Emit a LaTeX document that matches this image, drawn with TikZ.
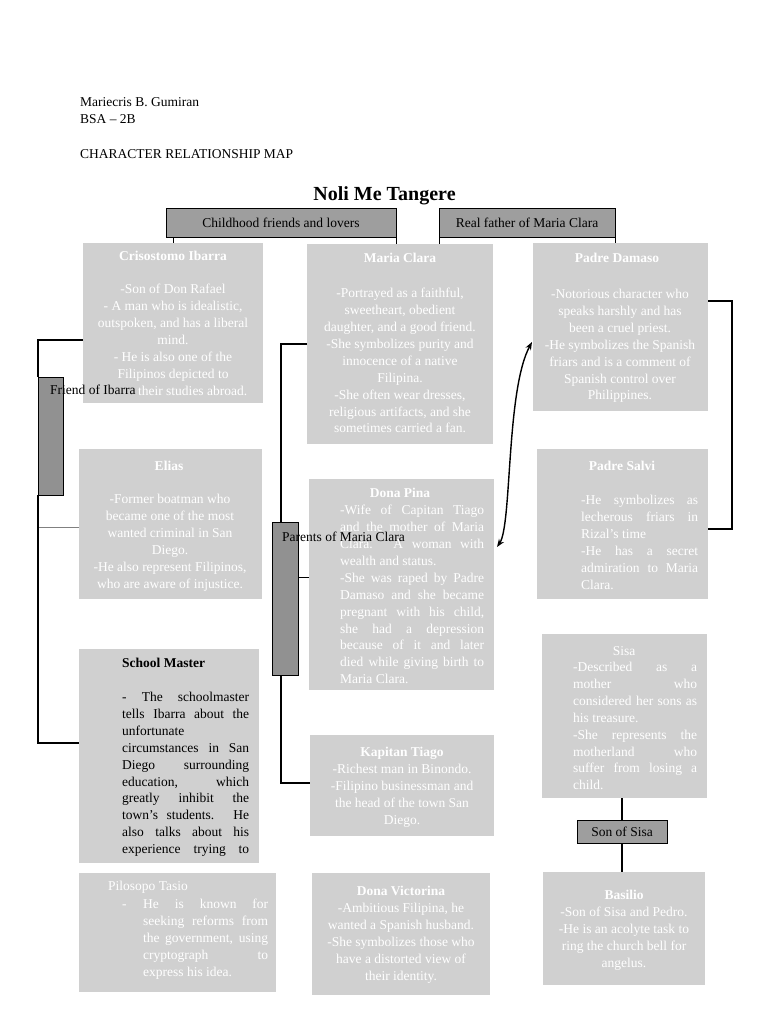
\documentclass[tikz,border=0pt]{standalone}
\usepackage{fontspec}
\setmainfont{Liberation Serif}
\usetikzlibrary{arrows.meta}
\definecolor{boxgray}{RGB}{208,208,208}
\definecolor{labgray}{RGB}{158,158,158}
\definecolor{bargray}{RGB}{145,145,145}
\newcommand\JL[2]{\makebox[#1][s]{#2}}
\begin{document}
\begin{tikzpicture}[x=1pt,y=-1pt,
 cbox/.style={fill=boxgray, draw=none, anchor=north west, inner sep=0pt, outer sep=0pt},
 fnt/.style={font=\fontsize{13.5}{16.9}\selectfont},
 wt/.style={fnt, text=white, inner sep=0pt},
 ctr/.style={wt, anchor=north, align=center},
 jst/.style={wt, anchor=north west, align=left},
 ttl/.style={wt, font=\fontsize{13.5}{16.9}\selectfont\bfseries, anchor=base},
 hdr/.style={fnt, inner sep=0pt, anchor=base west},
 lab/.style={draw=black, fill=labgray, line width=0.8pt, fnt, inner sep=0pt, outer sep=0pt},
 bar/.style={draw=black, fill=bargray, line width=0.7pt, anchor=north west, inner sep=0pt, outer sep=0pt},
 conn/.style={line width=1.6pt, black},
 thinl/.style={line width=0.9pt, black},
 tip/.style={{Stealth[length=8pt,width=6pt]}-{Stealth[length=8pt,width=6pt]}},
]
\fill[white] (0,0) rectangle (768,1024);
\useasboundingbox (0,0) rectangle (768,1024);

% header
\node[hdr] (author) at (80,106.5) {Mariecris B. Gumiran};
\node[hdr] (cls) at (80,123.5) {BSA – 2B};
\node[hdr] (maptitle) at (80,158.5) {CHARACTER RELATIONSHIP MAP};
\node[inner sep=0pt, anchor=base, font=\fontsize{20}{24}\selectfont\bfseries] (noli) at (384.5,200.5) {Noli Me Tangere};

% character boxes
\node[cbox, minimum width=180pt, minimum height=160pt] (ibarra) at (83,243) {};
\node[cbox, minimum width=186pt, minimum height=200pt] (maria) at (307,244) {};
\node[cbox, minimum width=175pt, minimum height=168pt] (damaso) at (533,243) {};
\node[cbox, minimum width=183pt, minimum height=150pt] (elias) at (79,449) {};
\node[cbox, minimum width=185pt, minimum height=211pt] (pina) at (309,479) {};
\node[cbox, minimum width=171pt, minimum height=150pt] (salvi) at (537,449) {};
\node[cbox, minimum width=180pt, minimum height=214pt] (school) at (79,649) {};
\node[cbox, minimum width=184pt, minimum height=101pt] (kapitan) at (310,735) {};
\node[cbox, minimum width=165pt, minimum height=164pt] (sisa) at (542,634) {};
\node[cbox, minimum width=197pt, minimum height=119pt] (tasio) at (79,873) {};
\node[cbox, minimum width=178pt, minimum height=122pt] (victorina) at (312,873) {};
\node[cbox, minimum width=162pt, minimum height=113pt] (basilio) at (543,872) {};

% titles
\node[ttl] (ibarraH) at (173,260.5) {Crisostomo Ibarra};
\node[ttl] (mariaH) at (400,262.5) {Maria Clara};
\node[ttl] (damasoH) at (617,262.5) {Padre Damaso};
\node[ttl] (eliasH) at (169,470.5) {Elias};
\node[ttl] (pinaH) at (400,497.5) {Dona Pina};
\node[ttl] (salviH) at (622,470.5) {Padre Salvi};
\node[ttl] (kapitanH) at (402,756.5) {Kapitan Tiago};
\node[wt, anchor=base] (sisaH) at (624,655.5) {Sisa};
\node[ttl] (victorinaH) at (401,895.5) {Dona Victorina};
\node[ttl] (basilioH) at (624,899.5) {Basilio};
\node[ttl, text=black, anchor=base west] (schoolH) at (122,667.5) {School Master};
\node[wt, anchor=base west] (tasioH) at (108,890.5) {Pilosopo Tasio};

% bodies
\node[ctr] (ibarraB) at (173,284) {-Son of Don Rafael\\- A man who is idealistic,\\outspoken, and has a liberal\\mind.\\- He is also one of the\\Filipinos depicted to\\\phantom{pursue} their studies abroad.};
\node[ctr] (mariaB) at (400,288) {-Portrayed as a faithful,\\sweetheart, obedient\\daughter, and a good friend.\\-She symbolizes purity and\\innocence of a native\\Filipina.\\-She often wear dresses,\\religious artifacts, and she\\sometimes carried a fan.};
\node[ctr] (damasoB) at (620,289) {-Notorious character who\\speaks harshly and has\\been a cruel priest.\\-He symbolizes the Spanish\\friars and is a comment of\\Spanish control over\\Philippines.};
\node[ctr] (eliasB) at (170,494) {-Former boatman who\\became one of the most\\wanted criminal in San\\Diego.\\-He also represent Filipinos,\\who are aware of injustice.};
\node[jst] (pinaB) at (340,505) {\JL{144pt}{-Wife of Capitan Tiago}\\\JL{144pt}{and the mother of Maria}\\\JL{144pt}{Clara. A woman with}\\wealth and status.\\\JL{144pt}{-She was raped by Padre}\\\JL{144pt}{Damaso and she became}\\\JL{144pt}{pregnant with his child,}\\\JL{144pt}{she had a depression}\\\JL{144pt}{because of it and later}\\\JL{144pt}{died while giving birth to}\\Maria Clara.};
\node[jst] (salviB) at (581,495) {\JL{117pt}{-He symbolizes as}\\\JL{117pt}{lecherous friars in}\\Rizal’s time\\\JL{117pt}{-He has a secret}\\\JL{117pt}{admiration to Maria}\\Clara.};
\node[jst, text=black] (schoolB) at (122,692) {\JL{127pt}{- The schoolmaster}\\\JL{127pt}{tells Ibarra about the}\\unfortunate\\\JL{127pt}{circumstances in San}\\\JL{127pt}{Diego surrounding}\\\JL{127pt}{education, which}\\\JL{127pt}{greatly inhibit the}\\\JL{127pt}{town’s students. He}\\\JL{127pt}{also talks about his}\\\JL{127pt}{experience trying to}};
\node[ctr] (kapitanB) at (402,764) {-Richest man in Binondo.\\-Filipino businessman and\\the head of the town San\\Diego.};
\node[jst] (sisaB) at (573,662) {\JL{124pt}{-Described as a}\\\JL{124pt}{mother who}\\\JL{124pt}{considered her sons as}\\his treasure.\\\JL{124pt}{-She represents the}\\\JL{124pt}{motherland who}\\\JL{124pt}{suffer from losing a}\\child.};
\node[wt, anchor=base west] (tasioD) at (122,908.5) {-};
\node[jst] (tasioB) at (143,899) {\JL{125pt}{He is known for}\\\JL{125pt}{seeking reforms from}\\\JL{125pt}{the government, using}\\\JL{125pt}{cryptograph to}\\express his idea.};
\node[ctr] (victorinaB) at (401,903) {-Ambitious Filipina, he\\wanted a Spanish husband.\\-She symbolizes those who\\have a distorted view of\\their identity.};
\node[ctr] (basilioB) at (624,907) {-Son of Sisa and Pedro.\\-He is an acolyte task to\\ring the church bell for\\angelus.};

% label boxes and bars
\node[lab, minimum width=230pt, minimum height=29pt] (cfl) at (281,222.5) {Childhood friends and lovers};
\node[lab, minimum width=176pt, minimum height=29pt] (rfm) at (527,222.5) {Real father of Maria Clara};
\node[lab, minimum width=90pt, minimum height=23pt] (sos) at (622,831.5) {Son of Sisa};
\node[bar, minimum width=25pt, minimum height=118pt] (fib) at (38,377) {};
\node[bar, minimum width=26pt, minimum height=153pt] (pmc) at (272,522) {};

% connectors
\draw[thinl] (cfl.south -| ibarra.north) -- (ibarra.north);
\draw[thinl] (cfl.south east) -- (cfl.south east |- maria.north);
\draw[thinl] (rfm.south west) -- (rfm.south west |- maria.north);
\draw[thinl] (rfm.south east) -- (rfm.south east |- damaso.north);

\draw[line width=1pt, gray] ([yshift=-3pt]elias.west) -- ([yshift=-3pt]elias.west -| fib.west);
\draw[conn] ([yshift=-17pt]ibarra.west) -| (fib.north west);
\draw[conn] (fib.south west) |- ([yshift=13pt]school.west);

\draw[conn] (maria.west) -| ([xshift=-4pt]pmc.north);
\draw[conn] ([xshift=-4pt]pmc.south) |- ([yshift=2.5pt]kapitan.west);
\draw[thinl] ([yshift=7.5pt]pina.west) -- ([yshift=7.5pt]pina.west -| pmc.east);

\draw[conn] ([yshift=26pt]damaso.east) -- ++(24,0) |- ([yshift=-5pt]salvi.east);

\draw[conn] (sos.north |- sisa.south) -- (sos.north);
\draw[conn] (sos.south) -- (sos.south |- basilio.north);

\draw[line width=1.4pt, tip] ([xshift=3pt,yshift=37.5pt]pina.east) .. controls (512,525) and (506,390) .. ([xshift=-1pt,yshift=-15pt]damaso.west);

% overlapping labels
\node[hdr] (fibT) at (50,394) {Friend of Ibarra};
\node[hdr] (pmcT) at (282,541) {Parents of Maria Clara};
\end{tikzpicture}
\end{document}
